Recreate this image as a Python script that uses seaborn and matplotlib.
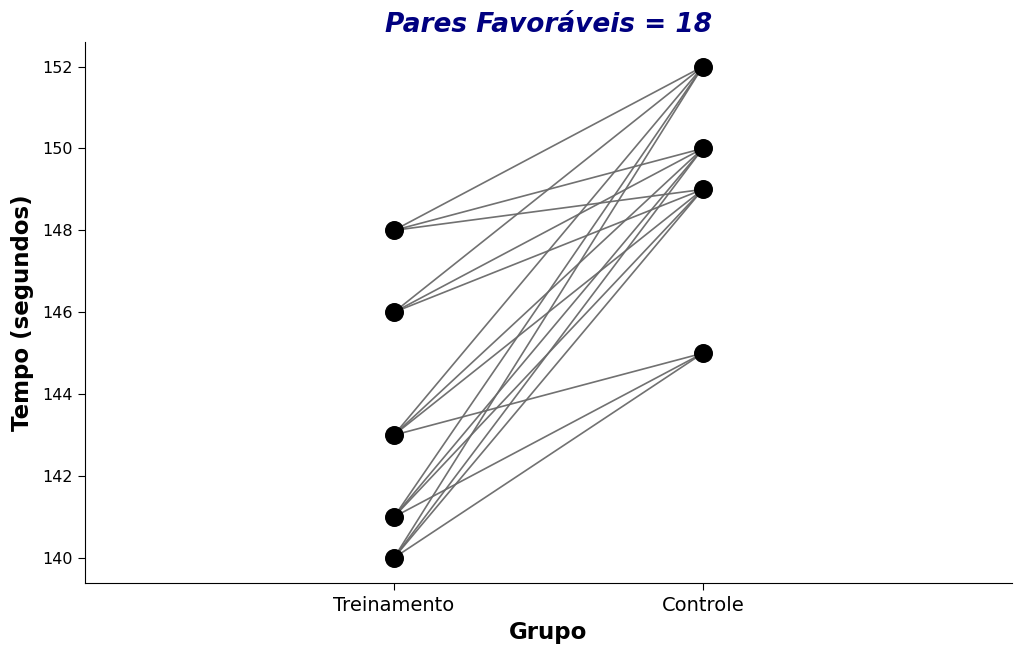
import pandas as pd
import seaborn as sns
import matplotlib.pyplot as plt

grupos = ["Treinamento", "Controle"]
treinamento = [148, 146, 143, 141, 140]
controle = [152, 150, 149, 145]

df = pd.DataFrame({
    "Grupo": ["Treinamento"] * len(treinamento) + ["Controle"] * len(controle),
    "Tempo": treinamento + controle,
})

# pares em que o tempo do treinamento é menor que o do controle
pares = [(t, c) for t in treinamento for c in controle if t < c]

sns.set_style("ticks", rc={"text.color": "black", "axes.labelcolor": "black",
                           "xtick.color": "black", "ytick.color": "black",
                           "axes.edgecolor": "black"})
plt.rcParams['font.family'] = ['DejaVu Sans']
fig, ax = plt.subplots(figsize=(10.24, 6.56), dpi=100)

for t, c in pares:
    ax.plot(grupos, [t, c], color="dimgray", lw=1.2, alpha=0.95, zorder=1)

sns.scatterplot(data=df, x="Grupo", y="Tempo", color="black", s=160,
                edgecolor="black", zorder=2, ax=ax)

ax.set_xlim(-1, 2)
ax.set_title(f"Pares Favoráveis = {len(pares)}", fontsize=19, fontweight="bold",
             fontstyle="italic", color="navy", pad=7)
ax.set_xlabel("Grupo", fontsize=16.5, fontweight="bold", labelpad=4)
ax.set_ylabel("Tempo (segundos)", fontsize=16.5, fontweight="bold", labelpad=6)
ax.tick_params(axis="x", labelsize=14, length=5, pad=5)
ax.tick_params(axis="y", labelsize=11.5, length=5)
sns.despine()
plt.tight_layout()
plt.subplots_adjust(left=0.083, bottom=0.112, right=0.988, top=0.936)
plt.savefig("out.png")
